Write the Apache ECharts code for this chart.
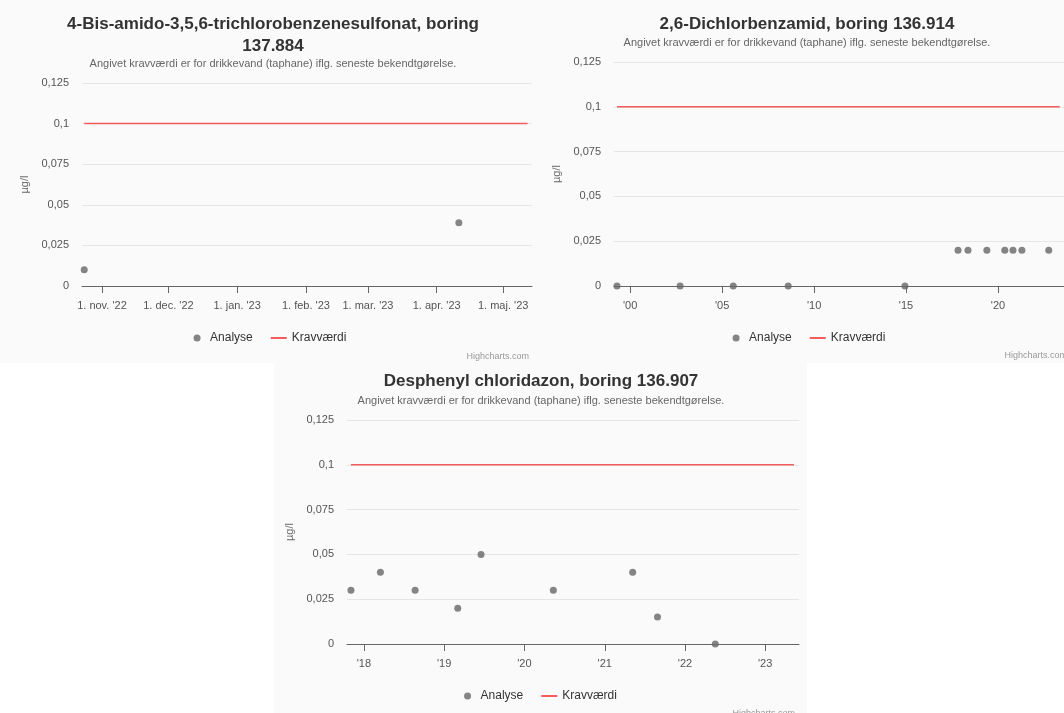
<!DOCTYPE html>
<html>
<head>
<meta charset="utf-8">
<script src="https://cdn.jsdelivr.net/npm/echarts@6/dist/echarts.min.js"></script>
<style>
  html, body { margin: 0; padding: 0; width: 1064px; height: 713px; overflow: hidden; background: #fff; }
  .panel { position: absolute; background: #fafafa; }
</style>
</head>
<body>
<div id="c1" class="panel" style="left:0;top:0;width:540px;height:363px"></div>
<div id="c2" class="panel" style="left:540px;top:0;width:538px;height:363px"></div>
<div id="c3" class="panel" style="left:274px;top:363px;width:533px;height:360px"></div>
<script>
// chart 1: 4-Bis-amido-3,5,6-trichlorobenzenesulfonat
const analyse1Dates = ['2022-10-24', '2023-04-11']
const analyse1Values = [0.01, 0.039]
const krav1Dates = ['2022-10-24', '2023-05-12']
const tick1Dates = ['2022-11-01', '2022-12-01', '2023-01-01', '2023-02-01', '2023-03-01', '2023-04-01', '2023-05-01']

// chart 2: 2,6-Dichlorbenzamid
const analyse2Dates = ['1999-04-15', '2002-09-20', '2005-08-10', '2008-08-05', '2014-12-10',
  '2017-10-30', '2018-05-15', '2019-05-25', '2020-05-15', '2020-10-25', '2021-04-20', '2022-10-05']
const analyse2Values = [0, 0, 0, 0, 0, 0.02, 0.02, 0.02, 0.02, 0.02, 0.02, 0.02]
const krav2Dates = ['1999-04-15', '2023-05-12']
const tick2Dates = ['2000-01-01', '2005-01-01', '2010-01-01', '2015-01-01', '2020-01-01']

// chart 3: Desphenyl chloridazon
const analyse3Dates = ['2017-11-03', '2018-03-17', '2018-08-22', '2019-03-04', '2019-06-18',
  '2020-05-12', '2021-05-08', '2021-08-29', '2022-05-19']
const analyse3Values = [0.03, 0.04, 0.03, 0.02, 0.05, 0.03, 0.04, 0.015, 0]
const krav3Dates = ['2017-11-03', '2023-05-12']
const tick3Dates = ['2018-01-01', '2019-01-01', '2020-01-01', '2021-01-01', '2022-01-01', '2023-01-01']

const kravValue = 0.1
const monthsDa = ['jan.', 'feb.', 'mar.', 'apr.', 'maj.', 'jun.', 'jul.', 'aug.', 'sep.', 'okt.', 'nov.', 'dec.']
const subtitleText = 'Angivet kravværdi er for drikkevand (taphane) iflg. seneste bekendtgørelse.'
const FONT = '"Liberation Sans", Arial, sans-serif'

function ts(s) {
  const p = s.split('-').map(Number)
  return new Date(p[0], p[1] - 1, p[2]).getTime()
}

function fmtDay(v) {
  const d = new Date(v)
  return d.getDate() + '. ' + monthsDa[d.getMonth()] + " '" + String(d.getFullYear()).slice(2)
}

function fmtYear(v) {
  return "'" + String(new Date(v).getFullYear()).slice(2)
}

function buildOption(cfg) {
  return {
    backgroundColor: 'transparent',
    animation: false,
    textStyle: { fontFamily: FONT },
    title: [
      {
        text: cfg.title,
        left: cfg.titleX,
        top: cfg.titleTop,
        textAlign: 'center',
        padding: 0,
        textStyle: { fontSize: 17, fontWeight: 'bold', color: '#333', lineHeight: 22, fontFamily: FONT }
      },
      {
        text: subtitleText,
        left: cfg.titleX,
        top: cfg.subTop,
        textAlign: 'center',
        padding: 0,
        textStyle: { fontSize: 11, fontWeight: 'normal', color: '#666', lineHeight: 14, fontFamily: FONT }
      }
    ],
    legend: {
      left: 'center',
      top: cfg.legendTop,
      itemWidth: 16,
      itemHeight: 7,
      itemGap: 18,
      selectedMode: false,
      textStyle: { fontSize: 12, color: '#333', fontFamily: FONT },
      data: [
        { name: 'Analyse', icon: 'circle' },
        { name: 'Kravværdi', icon: 'path://M0,0 h16 v2 h-16z' }
      ]
    },
    graphic: [{
      type: 'text',
      right: cfg.creditRight,
      top: cfg.creditTop,
      style: { text: 'Highcharts.com', fontSize: 9, fill: '#999', fontFamily: FONT }
    }],
    grid: cfg.grid,
    xAxis: {
      type: 'value',
      min: ts(cfg.xMin),
      max: ts(cfg.xMax),
      splitLine: { show: false },
      axisLine: { lineStyle: { color: '#666', width: 1 } },
      axisTick: {
        show: true,
        length: 7,
        lineStyle: { color: '#666' },
        customValues: cfg.ticks.map(ts)
      },
      axisLabel: {
        margin: 14,
        fontSize: 11,
        color: '#555',
        fontFamily: FONT,
        customValues: cfg.ticks.map(ts),
        formatter: cfg.tickFormat
      }
    },
    yAxis: {
      type: 'value',
      min: 0,
      max: 0.125,
      interval: 0.025,
      name: 'µg/l',
      nameLocation: 'middle',
      nameRotate: 90,
      nameGap: 52,
      nameTextStyle: { fontSize: 11, color: '#666', fontFamily: FONT },
      axisLine: { show: false },
      axisTick: { show: false },
      axisLabel: {
        margin: 13,
        fontSize: 11,
        color: '#555',
        fontFamily: FONT,
        formatter: v => String(+v.toFixed(3)).replace('.', ',')
      },
      splitLine: { lineStyle: { color: '#e6e6e6', width: 1 } }
    },
    series: [
      {
        name: 'Analyse',
        type: 'scatter',
        symbol: 'circle',
        symbolSize: 7,
        itemStyle: { color: '#666' },
        data: cfg.dates.map((d, i) => [ts(d), cfg.values[i]]),
        z: 3
      },
      {
        name: 'Kravværdi',
        type: 'line',
        symbol: 'none',
        lineStyle: { color: '#f45b5b', width: 1.5 },
        itemStyle: { color: '#f45b5b' },
        data: cfg.kravDates.map(d => [ts(d), kravValue]),
        z: 2
      }
    ]
  }
}

const charts = [
  echarts.init(document.getElementById('c1')),
  echarts.init(document.getElementById('c2')),
  echarts.init(document.getElementById('c3'))
]

charts[0].setOption(buildOption({
  title: '4-Bis-amido-3,5,6-trichlorobenzenesulfonat, boring\n137.884',
  titleX: 273, titleTop: 13, subTop: 57, legendTop: 327,
  creditRight: 11, creditTop: 352,
  grid: { left: 82, right: 8, top: 83, bottom: 77 },
  xMin: '2022-10-23', xMax: '2023-05-14',
  ticks: tick1Dates, tickFormat: fmtDay,
  dates: analyse1Dates, values: analyse1Values, kravDates: krav1Dates
}))

charts[1].setOption(buildOption({
  title: '2,6-Dichlorbenzamid, boring 136.914',
  titleX: 267, titleTop: 13, subTop: 36, legendTop: 327,
  creditRight: 11, creditTop: 351,
  grid: { left: 74, right: 8, top: 62, bottom: 77 },
  xMin: '1999-02-15', xMax: '2023-12-01',
  ticks: tick2Dates, tickFormat: fmtYear,
  dates: analyse2Dates, values: analyse2Values, kravDates: krav2Dates
}))

charts[2].setOption(buildOption({
  title: 'Desphenyl chloridazon, boring 136.907',
  titleX: 267, titleTop: 7, subTop: 31, legendTop: 322,
  creditRight: 12, creditTop: 346,
  grid: { left: 73, right: 8, top: 57, bottom: 79 },
  xMin: '2017-10-16', xMax: '2023-06-04',
  ticks: tick3Dates, tickFormat: fmtYear,
  dates: analyse3Dates, values: analyse3Values, kravDates: krav3Dates
}))
</script>
</body>
</html>
